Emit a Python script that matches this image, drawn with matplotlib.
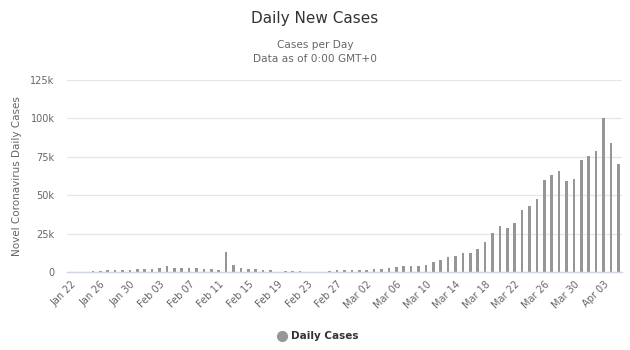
import matplotlib
matplotlib.use("Agg")
import matplotlib.pyplot as plt
import numpy as np
import datetime as dt

# Data: daily new cases (thousands), Jan 22 .. Apr 05
start = dt.date(2020, 1, 22)
daily_k = [
    0.0, 0.1, 0.3, 0.4, 0.6,            # Jan 22-26
    1.2, 1.1, 1.1, 1.1, 1.7,            # Jan 27-31
    1.7, 2.2, 2.4, 3.7, 2.8, 2.4, 2.8,  # Feb 01-07
    2.4, 2.2, 1.7, 1.1, 13.3, 4.7, 2.4, # Feb 08-14
    1.7, 2.0, 1.1, 1.1, 0.3, 0.6, 0.6,  # Feb 15-21
    0.6, 0.2, 0.2, 0.3, 0.7, 1.0, 1.1,  # Feb 22-28
    1.1, 1.1, 1.2, 1.7, 2.0, 2.6, 3.3,  # Feb 29 - Mar 06
    3.9, 3.9, 3.9, 4.3, 6.7, 7.5, 9.8,  # Mar 07-13
    10.3, 12.2, 12.2, 15.0, 19.7, 25.2, 29.9,  # Mar 14-20
    28.4, 31.7, 40.3, 43.0, 47.5, 59.9, 63.1,  # Mar 21-27
    65.7, 59.2, 60.5, 72.9, 75.7, 79.0, 100.4, # Mar 28 - Apr 03
    84.2, 70.5,                          # Apr 04-05
]
daily_cases = [v * 1000 for v in daily_k]
dates = [start + dt.timedelta(days=i) for i in range(len(daily_cases))]
categories = [d.strftime("%b %d") for d in dates]
y_ticks = [0, 25000, 50000, 75000, 100000, 125000]
y_tick_labels = ["0", "25k", "50k", "75k", "100k", "125k"]

plt.rcParams['font.family'] = ['DejaVu Sans']

fig = plt.figure(figsize=(6.3, 3.5), dpi=100)
ax = fig.add_axes([67/630, 1 - 272/350, (622 - 67)/630, (272 - 80)/350])

x = np.arange(len(daily_cases))
ax.bar(x, daily_cases, width=0.33, color='#969696', zorder=3)

ax.set_xlim(-0.5, len(daily_cases) - 0.5)
ax.set_ylim(0, 125000)
ax.set_yticks(y_ticks)
ax.set_yticklabels(y_tick_labels, color='#666666', fontsize=7)
ax.yaxis.grid(True, color='#e6e6e6', linewidth=0.9, zorder=0)
ax.tick_params(axis='y', length=0, pad=9)

tick_idx = list(range(0, len(daily_cases), 4))
ax.set_xticks(tick_idx)
ax.set_xticklabels([categories[i] for i in tick_idx], rotation=45, ha='right',
                   rotation_mode='anchor', color='#666666', fontsize=7)
ax.tick_params(axis='x', length=0, pad=5)

for s in ['top', 'right', 'left']:
    ax.spines[s].set_visible(False)
ax.spines['bottom'].set_color('#ccd6eb')
ax.spines['bottom'].set_linewidth(1)
ax.spines['bottom'].set_zorder(4)

ax.set_ylabel('Novel Coronavirus Daily Cases', color='#666666', fontsize=7.5, labelpad=6)

fig.text(315/630, 1 - 18/350, 'Daily New Cases', ha='center', va='center',
         fontsize=11, color='#333333')
fig.text(315/630, 1 - 45/350, 'Cases per Day', ha='center', va='center',
         fontsize=7.6, color='#666666')
fig.text(315/630, 1 - 59/350, 'Data as of 0:00 GMT+0', ha='center', va='center',
         fontsize=7.6, color='#666666')

# legend
fig.lines.append(plt.Line2D([282/630], [1 - 336/350], marker='o', markersize=7,
                            color='#969696', transform=fig.transFigure, linestyle='none'))
fig.text(291/630, 1 - 336/350, 'Daily Cases', ha='left', va='center',
         fontsize=7.5, fontweight='bold', color='#333333')

fig.savefig('out.png', dpi=100, facecolor='white')
